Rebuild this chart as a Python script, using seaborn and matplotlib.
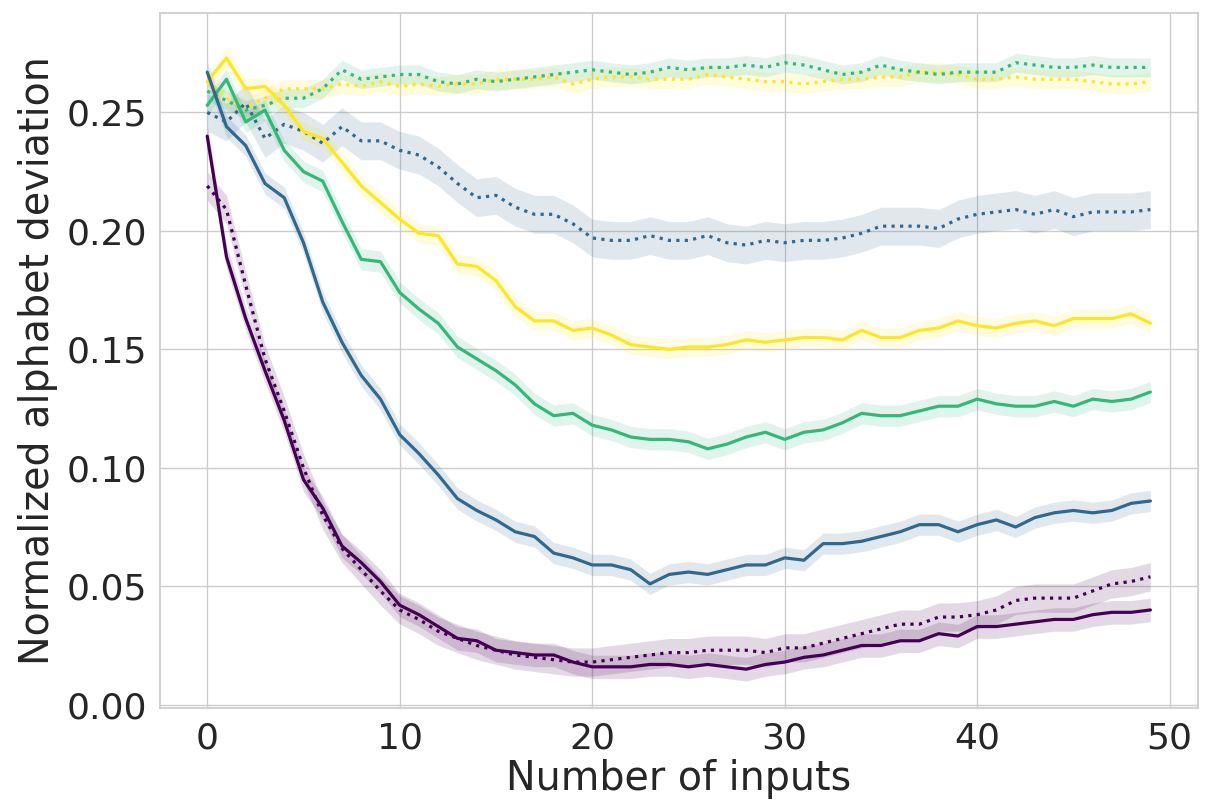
import matplotlib
matplotlib.use("Agg")
import matplotlib.pyplot as plt
import seaborn as sns
import pandas as pd
import numpy as np

inputs = list(range(50))

purple_solid = [0.240, 0.189, 0.163, 0.141, 0.120, 0.095, 0.083, 0.067, 0.060, 0.052,
                0.042, 0.038, 0.033, 0.028, 0.027, 0.023, 0.022, 0.021, 0.021, 0.018,
                0.016, 0.016, 0.016, 0.017, 0.017, 0.016, 0.017, 0.016, 0.015, 0.017,
                0.018, 0.020, 0.021, 0.023, 0.025, 0.025, 0.027, 0.027, 0.030, 0.029,
                0.033, 0.033, 0.034, 0.035, 0.036, 0.036, 0.038, 0.039, 0.039, 0.040]
purple_dotted = [0.219, 0.209, 0.177, 0.146, 0.124, 0.100, 0.080, 0.066, 0.057, 0.048,
                 0.040, 0.036, 0.031, 0.028, 0.025, 0.023, 0.021, 0.020, 0.019, 0.018,
                 0.018, 0.019, 0.020, 0.021, 0.022, 0.022, 0.023, 0.023, 0.023, 0.022,
                 0.024, 0.024, 0.026, 0.028, 0.030, 0.032, 0.034, 0.034, 0.037, 0.037,
                 0.038, 0.040, 0.044, 0.045, 0.045, 0.045, 0.048, 0.051, 0.052, 0.054]
blue_solid = [0.267, 0.244, 0.236, 0.220, 0.214, 0.195, 0.170, 0.153, 0.139, 0.129,
              0.114, 0.106, 0.097, 0.087, 0.082, 0.078, 0.073, 0.071, 0.064, 0.062,
              0.059, 0.059, 0.057, 0.051, 0.055, 0.056, 0.055, 0.057, 0.059, 0.059,
              0.062, 0.061, 0.068, 0.068, 0.069, 0.071, 0.073, 0.076, 0.076, 0.073,
              0.076, 0.078, 0.075, 0.079, 0.081, 0.082, 0.081, 0.082, 0.085, 0.086]
blue_dotted = [0.250, 0.246, 0.254, 0.239, 0.245, 0.242, 0.237, 0.244, 0.238, 0.238,
               0.234, 0.232, 0.227, 0.220, 0.214, 0.215, 0.210, 0.207, 0.207, 0.203,
               0.197, 0.196, 0.196, 0.198, 0.196, 0.196, 0.198, 0.195, 0.194, 0.196,
               0.195, 0.196, 0.196, 0.197, 0.199, 0.202, 0.202, 0.202, 0.201, 0.205,
               0.207, 0.208, 0.209, 0.207, 0.209, 0.206, 0.208, 0.208, 0.208, 0.209]
green_solid = [0.253, 0.264, 0.246, 0.251, 0.234, 0.225, 0.221, 0.204, 0.188, 0.187,
               0.174, 0.167, 0.161, 0.151, 0.146, 0.141, 0.135, 0.127, 0.122, 0.123,
               0.118, 0.116, 0.113, 0.112, 0.112, 0.111, 0.108, 0.110, 0.113, 0.115,
               0.112, 0.115, 0.116, 0.119, 0.123, 0.122, 0.122, 0.124, 0.126, 0.126,
               0.129, 0.127, 0.126, 0.126, 0.128, 0.126, 0.129, 0.128, 0.129, 0.132]
green_dotted = [0.259, 0.255, 0.251, 0.253, 0.256, 0.256, 0.260, 0.268, 0.264, 0.265,
                0.266, 0.266, 0.263, 0.262, 0.264, 0.263, 0.264, 0.265, 0.266, 0.267,
                0.268, 0.267, 0.266, 0.267, 0.269, 0.268, 0.269, 0.269, 0.270, 0.269,
                0.271, 0.270, 0.268, 0.266, 0.267, 0.270, 0.268, 0.267, 0.266, 0.267,
                0.267, 0.267, 0.271, 0.270, 0.269, 0.269, 0.270, 0.269, 0.269, 0.269]
yellow_solid = [0.263, 0.273, 0.260, 0.261, 0.253, 0.242, 0.239, 0.229, 0.219, 0.212,
                0.205, 0.199, 0.198, 0.186, 0.185, 0.179, 0.168, 0.162, 0.162, 0.158,
                0.159, 0.156, 0.152, 0.151, 0.150, 0.151, 0.151, 0.152, 0.154, 0.153,
                0.154, 0.155, 0.155, 0.154, 0.158, 0.155, 0.155, 0.158, 0.159, 0.162,
                0.160, 0.159, 0.161, 0.162, 0.160, 0.163, 0.163, 0.163, 0.165, 0.161]
yellow_dotted = [0.263, 0.256, 0.252, 0.256, 0.260, 0.260, 0.260, 0.262, 0.261, 0.263,
                 0.261, 0.262, 0.261, 0.262, 0.262, 0.264, 0.264, 0.264, 0.265, 0.262,
                 0.264, 0.265, 0.265, 0.264, 0.264, 0.264, 0.266, 0.265, 0.264, 0.263,
                 0.263, 0.262, 0.263, 0.264, 0.264, 0.265, 0.265, 0.267, 0.267, 0.266,
                 0.264, 0.264, 0.265, 0.264, 0.264, 0.264, 0.263, 0.262, 0.262, 0.263]

# (values, colour, linestyle, half width of shaded band)
series = [
    (yellow_dotted, "#fde725", ":", 0.004),
    (green_dotted, "#35b779", ":", 0.004),
    (blue_dotted, "#31688e", ":", 0.008),
    (purple_dotted, "#440154", ":", 0.006),
    (yellow_solid, "#fde725", "-", 0.004),
    (green_solid, "#35b779", "-", 0.0045),
    (blue_solid, "#31688e", "-", 0.0045),
    (purple_solid, "#440154", "-", 0.005),
]

sns.set_theme(style="whitegrid")
plt.rcParams['font.family'] = ['DejaVu Sans']

fig = plt.figure(figsize=(12.22, 8.08), dpi=100)
ax = fig.add_axes([0.131, 0.124, 0.849, 0.860])

for vals, color, ls, hw in series:
    df = pd.DataFrame({"inputs": inputs, "dev": vals})
    sns.lineplot(data=df, x="inputs", y="dev", color=color, linestyle=ls,
                 linewidth=2.3, ax=ax)
    v = np.array(vals)
    ax.fill_between(inputs, v - hw, v + hw, color=color, alpha=0.15,
                    edgecolor="white", linewidth=0.6)

ax.set_xlim(-2.45, 51.45)
ax.set_ylim(-0.0013, 0.292)
ax.set_xticks([0, 10, 20, 30, 40, 50])
ax.set_yticks([0.00, 0.05, 0.10, 0.15, 0.20, 0.25])
ax.set_yticklabels(["0.00", "0.05", "0.10", "0.15", "0.20", "0.25"])
ax.tick_params(labelsize=26)
ax.set_xlabel("Number of inputs", fontsize=28.5, labelpad=3)
ax.set_ylabel("Normalized alphabet deviation", fontsize=28.5, labelpad=6)

fig.savefig("out.png", dpi=100)
